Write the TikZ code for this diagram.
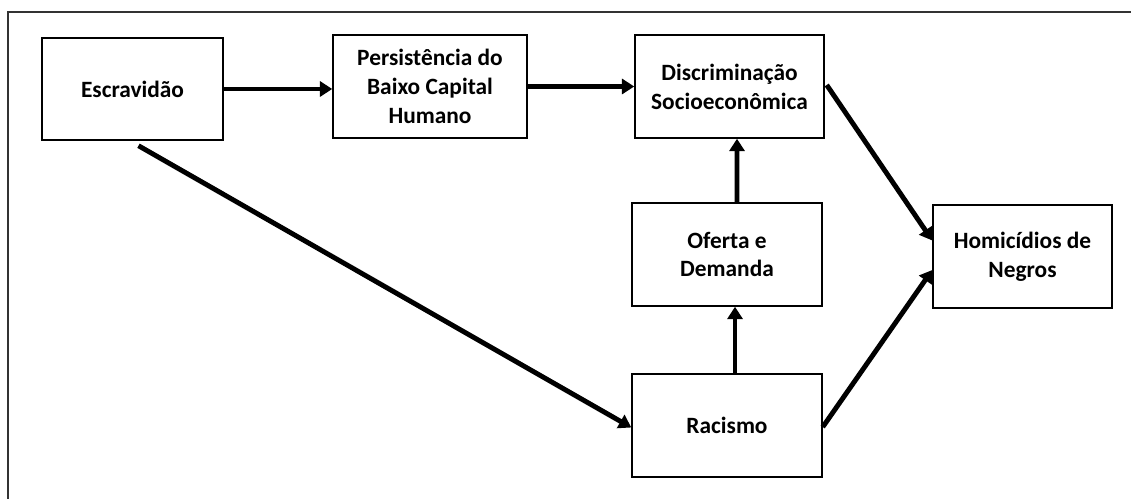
\documentclass[tikz,border=0pt]{standalone}
\usepackage{fontspec}
\setmainfont{Carlito}
\usetikzlibrary{arrows.meta}
\begin{document}
\begin{tikzpicture}[x=0.02cm,y=-0.02cm,
		box/.style={draw, line width=0.85pt, align=center, inner sep=0pt,
			minimum height=2.06cm, font=\bfseries\fontsize{13.3}{16.4}\selectfont},
		arr/.style={line width=2.8pt, -{Triangle[length=7pt,width=8.5pt]}}]
		% Fix page and draw frame
		\useasboundingbox (0,0) rectangle (1131,499);
		\coordinate (FL) at (8,499);
		\coordinate (FC) at (8,12);
		\coordinate (FR) at (1131,12);
		\draw[line width=0.85pt, color=black!80] (FL) -- (FC) -- (FR);
		
		% Draw boxes
		\node[box, minimum width=3.62cm, minimum height=2.04cm] (escr) at (132.5,89) {Escravidão};
		\node[box, minimum width=3.88cm] (pers) at (430,86.5) {Persistência do\\Baixo Capital\\Humano};
		\node[box, minimum width=3.78cm] (disc) at (729.5,86.5) {Discriminação\\Socioeconômica};
		\node[box, minimum width=3.8cm] (ofer) at (727,254.5) {Oferta e\\Demanda};
		\node[box, minimum width=3.8cm] (rac) at (727,425.5) {Racismo};
		\node[box, minimum width=3.58cm] (homi) at (1022.5,256.5) {Homicídios de\\Negros};
		
		% Draw arrows
		\draw[arr] (escr.east) -- (pers.west |- escr.east);
		\draw[arr] (pers.east) -- (disc.west);
		\draw[arr] ([shift={(6,5)}]escr.south) -- ([shift={(0,2)}]rac.west);
		\draw[arr] ([shift={(8,0)}]rac.north) -- ([shift={(8,0)}]ofer.south);
		\draw[arr] ([shift={(10,0)}]ofer.north) -- ([shift={(7.5,0)}]disc.south);
		\draw[arr] ([shift={(2,-1.5)}]disc.east) -- ([shift={(0,-16)}]homi.west);
		\draw[arr] ([shift={(0,1.5)}]rac.east) -- ([shift={(0,13.5)}]homi.west);
		
	\end{tikzpicture}
\end{document}
